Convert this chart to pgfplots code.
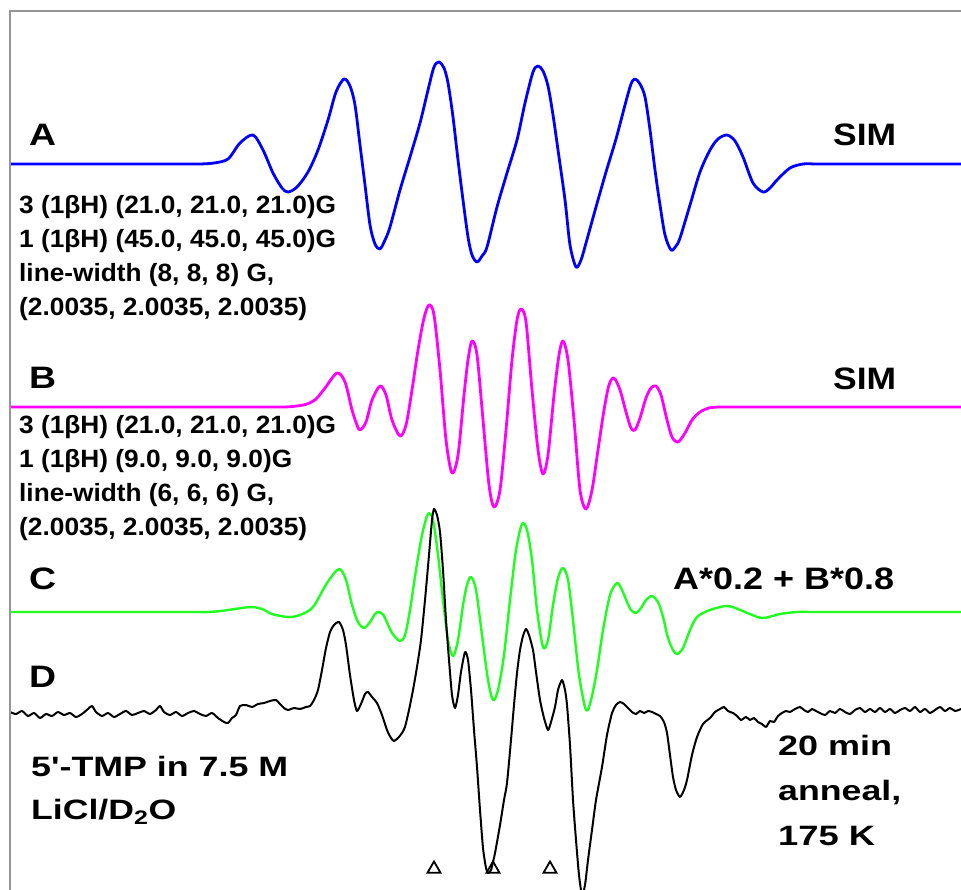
\documentclass[border=0pt]{standalone}
\usepackage{pgfplots}
\pgfplotsset{compat=1.18}
\usepackage{graphicx}
\usepackage{fontspec}
\newfontfamily\lib{Liberation Sans}
\definecolor{epblue}{RGB}{0,0,255}
\definecolor{epmag}{RGB}{255,0,255}
\definecolor{epgreen}{RGB}{30,255,30}
\definecolor{bordergray}{RGB}{150,150,150}
\newcommand{\lbl}[5]{\node[anchor=base west,inner sep=0pt] at (axis cs:#1,#2) {\fontsize{#3}{#3}\selectfont\lib\bfseries\resizebox{#4pt}{\height}{#5}};}
\begin{document}
\begin{tikzpicture}
\begin{axis}[
  scale only axis, width=961pt, height=890pt,
  xmin=0, xmax=961, ymin=0, ymax=890, y dir=reverse,
  hide axis, clip=true,
]
\path (axis cs:0,0) rectangle (axis cs:961,890);
% A: simulation (blue)
\addplot[epblue, line width=2.8pt, smooth, line join=round] coordinates {
(10,164)(150,164)(170,164)(185,164)(200,164)(214,163)(228,159)(240,143)(253,135)(263,150)
(273,173)(282,188)(288,192)(297,187)(308,172)(318,150)(328,120)(336,92)(344,79)(350,86)
(355,105)(360,145)(365,185)(370,225)(375,244)(380,249)(385,240)(390,227)(400,190)(410,157)
(420,123)(428,90)(434,67)(439,62)(444,68)(448,83)(453,117)(458,160)(463,200)(468,237)
(472,255)(477,262)(482,256)(487,247)(497,207)(507,173)(517,140)(525,103)(533,72)(538,66)
(543,71)(548,86)(553,115)(558,150)(565,200)(570,245)(576,267)(581,260)(586,243)(596,207)
(606,172)(616,139)(625,105)(631,84)(635,79)(640,84)(645,97)(650,130)(655,170)(660,205)
(665,235)(671,250)(676,246)(680,238)(690,205)(700,172)(710,150)(718,139)(727,135)(735,141)
(743,157)(753,183)(763,192)(770,188)(777,180)(790,168)(803,164)(816,164)(830,164)(850,164)
(880,164)(961,164)};
% B: simulation (magenta)
\addplot[epmag, line width=2.8pt, smooth, line join=round] coordinates {
(10,407)(250,407)(270,407)(285,407)(297,406)(307,404)(316,399)(325,388)(337,373)(345,382)(352,410)(357,425)(360,430)
(366,422)(372,400)(380,386)(386,395)(392,420)(400,436)(406,425)(412,390)(418,350)(424,318)
(429,305)(434,315)(440,370)(446,440)(452,473)(458,455)(464,395)(468,360)(472,341)(477,355)
(483,420)(489,485)(494,507)(500,490)(506,430)(512,360)(517,320)(521,309)(526,322)(532,390)
(538,450)(543,474)(548,455)(554,395)(559,355)(563,341)(568,360)(574,420)(580,490)(586,509)
(592,490)(598,450)(604,410)(609,385)(614,378)(620,390)(626,412)(631,428)(635,430)(640,418)
(646,398)(651,388)(656,386)(661,395)(667,420)(672,437)(678,442)(685,433)(692,420)(700,412)
(709,408)(719,407)(730,407)(745,407)(770,407)(961,407)};
% C: A*0.2 + B*0.8 (green)
\addplot[epgreen, line width=2.4pt, smooth, line join=round] coordinates {
(10,612)(160,612)(180,612)(195,612)(208,612)(221,611)(235,609)(251,607)(262,609)(272,614)(288,617)(300,615)(313,607)
(327,583)(339,569)(346,580)(352,605)(358,622)(364,628)(370,622)(375,614)(379,612)(384,616)
(392,633)(400,641)(405,635)(410,610)(416,570)(422,535)(428,514)(433,520)(438,555)(443,600)
(448,640)(453,656)(458,640)(463,605)(467,585)(471,577)(476,590)(482,635)(488,680)(493,700)
(498,690)(504,655)(510,600)(516,550)(522,524)(527,530)(532,560)(537,610)(543,647)(548,640)
(553,605)(558,578)(563,568)(568,580)(573,620)(579,675)(586,710)(591,700)(597,670)(603,630)
(610,595)(617,583)(622,590)(627,602)(631,610)(636,613)(641,608)(646,600)(652,596)(658,602)
(663,617)(668,638)(673,650)(677,654)(683,648)(690,630)(697,617)(710,610)(728,606)(745,612)
(762,618)(780,614)(797,612)(812,612)(830,612)(850,612)(880,612)(961,612)};
% D: experiment (black)
\addplot[black, line width=2pt, smooth, tension=0.4, line join=round] coordinates {
(10,712)(16,714)(22,711)(28,716)(34,713)(40,718)(46,714)(52,716)(58,712)(64,715)(70,713)
(76,717)(82,714)(88,709)(92,706)(96,712)(102,716)(108,713)(114,717)(120,714)(126,711)
(132,715)(138,713)(144,711)(150,714)(156,710)(160,706)(164,712)(170,715)(176,712)(182,716)
(188,713)(194,711)(200,714)(206,716)(212,713)(218,718)(224,722)(228,723)(232,718)(236,715)
(240,706)(246,705)(252,707)(258,704)(264,703)(270,701)(276,700)(280,704)(284,708)(288,710)
(294,708)(300,709)(306,707)(310,706)(314,700)(318,690)(322,670)(326,648)(330,632)(334,625)
(339,622)(343,630)(346,645)(350,675)(354,700)(357,711)(361,704)(365,694)(368,692)(372,697)
(377,703)(382,715)(387,730)(391,738)(394,741)(398,738)(402,733)(405,727)(409,710)(413,690)
(417,667)(421,640)(425,600)(429,555)(432,520)(434,509)(437,515)(440,532)(443,570)(446,620)
(449,660)(452,695)(455,708)(458,695)(461,672)(465,652)(468,660)(471,690)(474,730)(477,767)
(480,810)(483,848)(486,868)(488,873)(491,870)(495,853)(500,825)(504,800)(507,783)(511,740)
(514,705)(517,673)(520,650)(523,636)(526,629)(529,635)(533,650)(536,672)(540,700)(544,718)
(548,730)(551,722)(555,707)(558,690)(562,680)(565,690)(567,705)(570,745)(573,800)(576,840)
(579,875)(582,895)(585,885)(588,860)(592,830)(596,800)(602,767)(607,735)(612,713)(616,705)
(620,702)(624,704)(628,708)(632,712)(636,714)(640,711)(644,713)(648,711)(652,712)(656,714)
(660,716)(664,722)(667,733)(670,755)(673,777)(676,790)(680,797)(684,790)(687,780)(692,755)
(697,737)(703,724)(710,718)(715,712)(720,709)(724,707)(728,711)(733,713)(737,716)(741,720)
(746,717)(750,720)(754,718)(758,722)(762,724)(766,727)(770,721)(774,722)(778,716)(782,713)
(786,711)(790,712)(795,709)(800,707)(804,710)(808,712)(812,709)(816,711)(820,713)(825,715)
(830,711)(835,713)(840,709)(845,712)(850,714)(855,710)(860,708)(865,712)(870,709)(875,712)
(880,708)(885,712)(890,709)(895,713)(900,710)(905,708)(910,711)(915,707)(920,712)(925,709)
(930,713)(935,710)(940,707)(945,711)(950,708)(955,711)(961,709)};
% triangles
\addplot[only marks, mark=triangle, mark size=7.5pt, black, mark options={line width=1.8pt}] coordinates {(434,869)(493,869)(550,869)};
% border
\draw[bordergray, line width=2.5pt] (axis cs:10,890) -- (axis cs:10,11) -- (axis cs:961,11);
% labels
\lbl{29}{146}{31}{27}{A}
\lbl{833}{146}{31}{63}{SIM}
\lbl{19}{214}{25}{317}{3 (1βH) (21.0, 21.0, 21.0)G}
\lbl{19}{248}{25}{317}{1 (1βH) (45.0, 45.0, 45.0)G}
\lbl{19}{282}{25}{255}{line-width (8, 8, 8) G,}
\lbl{19}{316}{25}{288}{(2.0035, 2.0035, 2.0035)}
\lbl{29}{389}{31}{27}{B}
\lbl{833}{389}{31}{63}{SIM}
\lbl{19}{433}{25}{317}{3 (1βH) (21.0, 21.0, 21.0)G}
\lbl{19}{467}{25}{273}{1 (1βH) (9.0, 9.0, 9.0)G}
\lbl{19}{501}{25}{255}{line-width (6, 6, 6) G,}
\lbl{19}{535}{25}{288}{(2.0035, 2.0035, 2.0035)}
\lbl{29}{589}{31}{27}{C}
\lbl{673}{589}{31}{221}{A*0.2 + B*0.8}
\lbl{29}{687}{31}{27}{D}
\lbl{31}{776}{28}{257}{5'-TMP in 7.5 M}
\lbl{31}{819}{28}{145}{LiCl/D\textsubscript{2}O}
\lbl{778}{755}{28}{114}{20 min}
\lbl{778}{800}{28}{123}{anneal,}
\lbl{778}{845}{28}{97}{175 K}
\end{axis}
\end{tikzpicture}
\end{document}
